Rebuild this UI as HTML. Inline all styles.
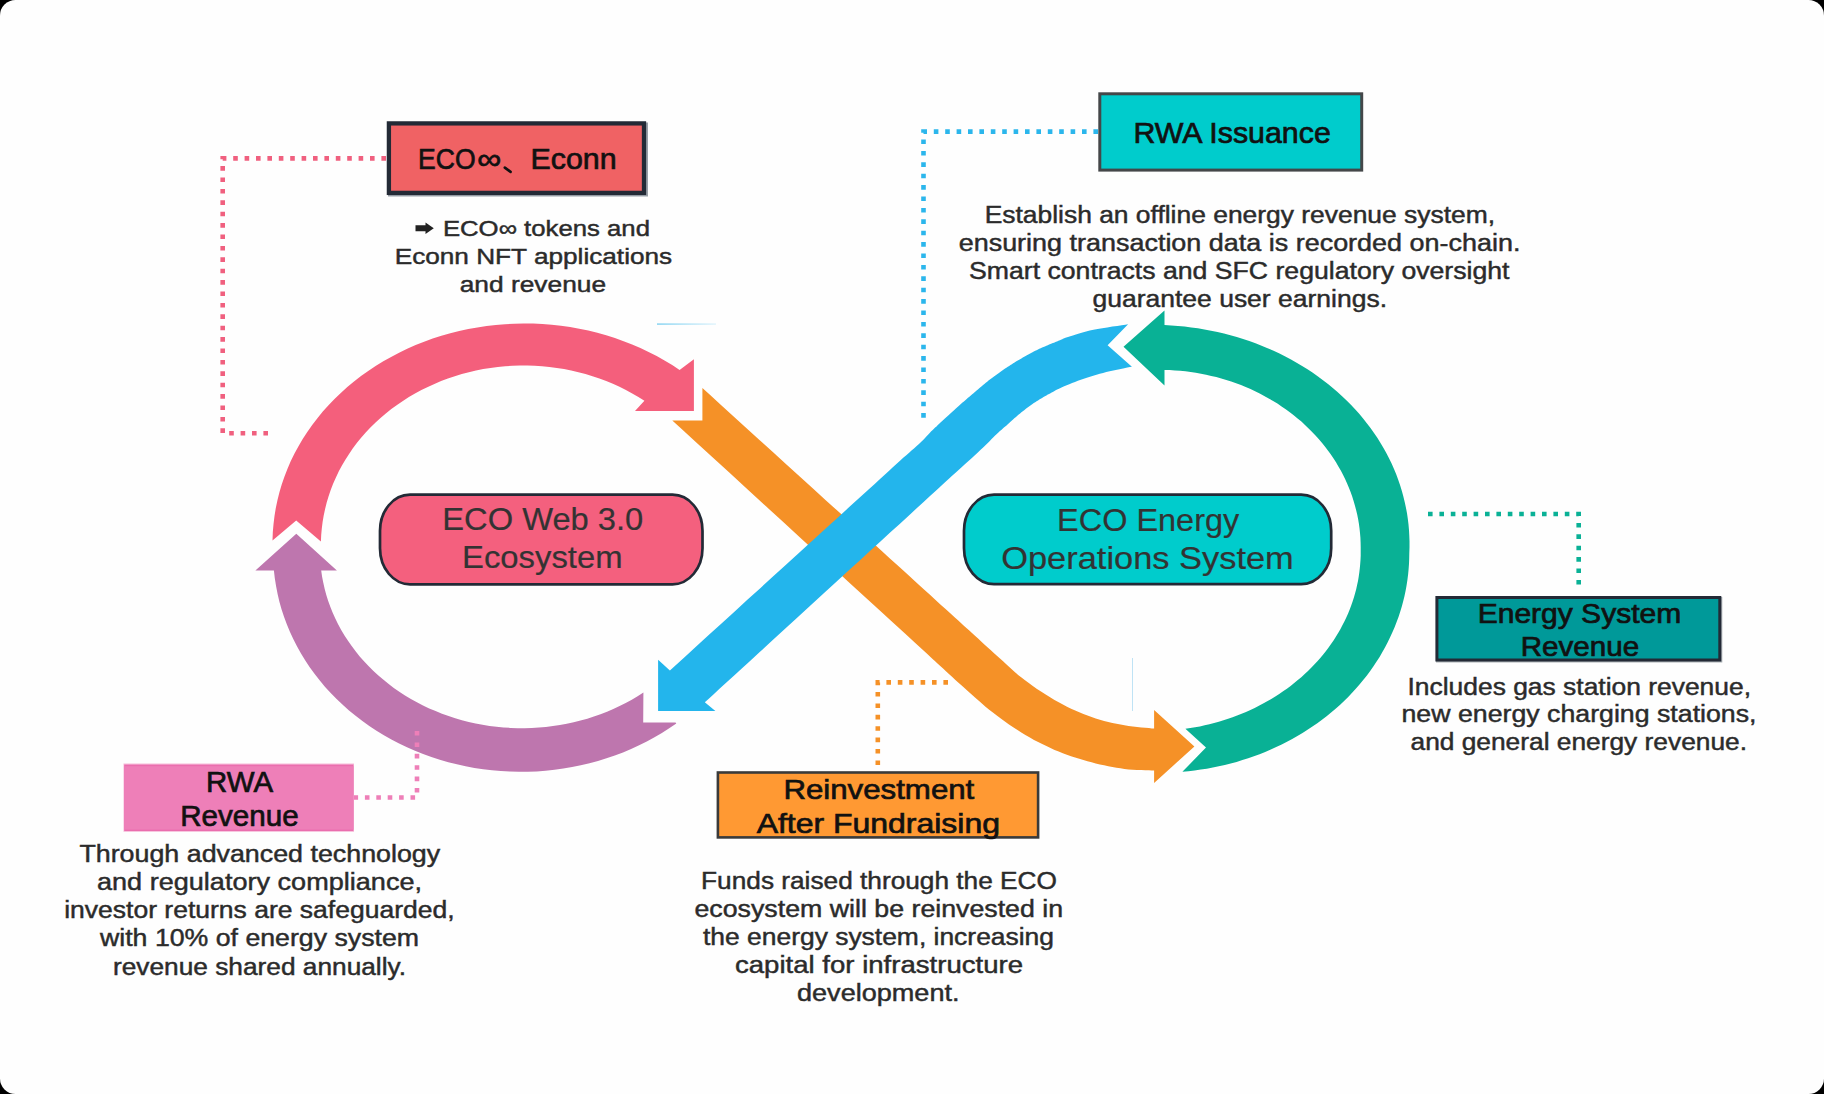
<!DOCTYPE html>
<html><head><meta charset="utf-8"><title>ECO</title>
<style>
html,body{margin:0;padding:0;background:#000;}
body{width:1824px;height:1094px;overflow:hidden;}
svg{display:block;}
text{font-family:"Liberation Sans",sans-serif;white-space:pre;}
</style></head><body>
<svg width="1824" height="1094" viewBox="0 0 1824 1094">
<rect x="0" y="0" width="1824" height="1094" rx="15.5" ry="15.5" fill="#fefefe"/>
<defs><linearGradient id="fl" x1="0" x2="1" y1="0" y2="0"><stop offset="0" stop-color="#8fd6f2"/><stop offset="1" stop-color="#e4f5fc"/></linearGradient></defs><rect x="657" y="323.3" width="59" height="1.6" fill="url(#fl)"/>
<rect x="1132" y="658" width="1" height="53" fill="#bfe3f5"/>
<path d="M386 158.4 H222.7 V433.2 H270" fill="none" stroke="#f0607f" stroke-width="4.6" stroke-dasharray="4.6 6.8"/>
<path d="M1098 131.6 H923.5 V420" fill="none" stroke="#2bb6ec" stroke-width="4.6" stroke-dasharray="4.6 6.8"/>
<path d="M1428 514 H1578.7 V590" fill="none" stroke="#0ab196" stroke-width="4.6" stroke-dasharray="4.6 6.8"/>
<path d="M948 682.4 H877.8 V771" fill="none" stroke="#f59127" stroke-width="4.6" stroke-dasharray="4.6 6.8"/>
<path d="M272.5 540.4 L272.8 532.3 L273.5 524.2 L274.5 516.1 L275.8 508.0 L277.5 500.0 L279.5 492.1 L281.8 484.2 L284.5 476.4 L287.5 468.7 L290.8 461.1 L294.5 453.6 L298.5 446.3 L302.7 439.0 L307.3 431.9 L312.2 425.0 L317.4 418.2 L322.8 411.6 L328.5 405.2 L334.5 399.0 L340.8 392.9 L347.3 387.1 L354.0 381.5 L361.0 376.1 L368.2 370.9 L375.6 366.0 L383.3 361.3 L391.1 356.9 L399.1 352.7 L407.2 348.8 L415.6 345.1 L424.1 341.8 L432.7 338.6 L441.4 335.8 L450.3 333.3 L459.2 331.0 L468.3 329.1 L477.4 327.4 L486.6 326.0 L495.8 324.9 L505.1 324.2 L514.4 323.7 L523.7 323.5 L533.1 323.6 L542.4 324.0 L551.7 324.8 L560.9 325.8 L570.1 327.1 L579.2 328.7 L588.3 330.6 L597.3 332.8 L606.2 335.3 L614.9 338.1 L623.6 341.2 L632.1 344.5 L640.4 348.1 L648.6 352.0 L656.7 356.1 L664.5 360.5 L672.2 365.1 L679.6 370.0 L693.9 359.3 L693.9 410.9 L635.0 410.9 L644.4 400.8 L638.4 397.0 L632.2 393.4 L625.9 390.0 L619.5 386.8 L612.9 383.8 L606.2 381.0 L599.4 378.5 L592.5 376.2 L585.5 374.0 L578.4 372.2 L571.2 370.5 L564.0 369.1 L556.8 367.9 L549.4 367.0 L542.1 366.2 L534.7 365.8 L527.3 365.5 L519.9 365.5 L512.5 365.8 L505.2 366.3 L497.8 367.0 L490.5 367.9 L483.2 369.1 L476.0 370.5 L468.9 372.2 L461.8 374.1 L454.8 376.2 L447.9 378.5 L441.1 381.1 L434.4 383.9 L427.8 386.9 L421.4 390.1 L415.0 393.5 L408.9 397.1 L402.9 400.9 L397.0 404.9 L391.3 409.1 L385.8 413.5 L380.5 418.0 L375.3 422.7 L370.4 427.6 L365.7 432.6 L361.1 437.8 L356.8 443.1 L352.7 448.6 L348.9 454.2 L345.2 459.9 L341.8 465.7 L338.7 471.6 L335.8 477.7 L333.1 483.8 L330.7 490.0 L328.6 496.3 L326.7 502.6 L325.1 509.0 L323.7 515.4 L322.6 521.9 L321.8 528.4 L321.2 535.0 L320.9 541.5 L296.2 520.6 Z" fill="#f45f7c"/>
<path d="M296.3 533.7 L336.9 570.5 L321.2 570.5 L322.1 576.7 L323.3 582.8 L324.7 588.9 L326.3 595.0 L328.2 601.0 L330.4 606.9 L332.7 612.8 L335.3 618.6 L338.1 624.3 L341.2 629.9 L344.5 635.4 L348.0 640.8 L351.7 646.1 L355.6 651.3 L359.7 656.4 L364.0 661.3 L368.5 666.1 L373.2 670.8 L378.1 675.3 L383.2 679.6 L388.4 683.8 L393.8 687.9 L399.3 691.7 L405.0 695.4 L410.9 698.9 L416.9 702.3 L423.0 705.4 L429.2 708.4 L435.6 711.1 L442.0 713.7 L448.6 716.1 L455.2 718.2 L461.9 720.2 L468.7 721.9 L475.6 723.4 L482.5 724.8 L489.5 725.9 L496.5 726.8 L503.5 727.5 L510.6 727.9 L517.6 728.2 L524.7 728.2 L531.8 728.0 L538.9 727.6 L545.9 727.0 L552.9 726.1 L559.9 725.0 L566.8 723.8 L573.7 722.3 L580.5 720.6 L587.3 718.7 L593.9 716.6 L600.5 714.2 L607.0 711.7 L613.3 709.0 L619.6 706.1 L625.7 703.0 L631.8 699.7 L637.6 696.2 L643.4 692.6 L643.2 722.6 L675.5 722.6 L676.3 723.4 L669.2 728.3 L661.9 732.9 L654.5 737.3 L646.8 741.4 L639.1 745.3 L631.1 749.0 L623.0 752.4 L614.8 755.5 L606.5 758.3 L598.0 760.9 L589.5 763.3 L580.8 765.3 L572.1 767.1 L563.3 768.6 L554.5 769.8 L545.6 770.7 L536.7 771.4 L527.8 771.7 L518.8 771.8 L509.9 771.6 L500.9 771.1 L492.0 770.3 L483.2 769.2 L474.4 767.9 L465.6 766.3 L456.9 764.3 L448.3 762.2 L439.8 759.7 L431.4 757.0 L423.1 754.0 L415.0 750.7 L407.0 747.2 L399.1 743.4 L391.4 739.4 L383.9 735.2 L376.5 730.7 L369.3 725.9 L362.4 721.0 L355.6 715.8 L349.0 710.4 L342.7 704.8 L336.6 699.0 L330.7 693.1 L325.1 686.9 L319.8 680.5 L314.7 674.0 L309.9 667.4 L305.3 660.6 L301.0 653.6 L297.1 646.5 L293.4 639.3 L290.0 632.0 L286.9 624.5 L284.1 617.0 L281.6 609.4 L279.4 601.7 L277.6 594.0 L276.1 586.2 L274.8 578.3 L273.9 570.5 L255.4 570.5 Z" fill="#be76ae"/>
<path d="M702.4 388.0 L709.9 394.8 L719.9 403.9 L731.7 414.7 L744.9 426.7 L758.9 439.4 L773.1 452.3 L787.0 464.9 L800.0 476.7 L812.7 488.3 L826.0 500.4 L839.5 512.6 L853.0 524.9 L866.1 536.8 L878.5 548.0 L889.9 558.4 L900.0 567.6 L908.8 575.6 L916.6 582.7 L923.5 589.0 L929.7 594.6 L935.3 599.7 L940.4 604.4 L945.3 608.8 L950.0 613.1 L954.3 617.0 L958.0 620.3 L961.2 623.3 L964.1 625.9 L966.7 628.3 L969.3 630.6 L972.0 633.1 L975.0 635.8 L978.1 638.6 L981.2 641.5 L984.4 644.4 L987.5 647.2 L990.6 650.1 L993.8 652.9 L996.9 655.7 L1000.0 658.5 L1003.1 661.3 L1006.0 664.0 L1009.0 666.8 L1012.0 669.5 L1015.0 672.2 L1018.1 674.9 L1021.5 677.6 L1025.0 680.3 L1028.8 683.1 L1032.8 686.0 L1037.0 688.9 L1041.4 691.8 L1045.7 694.6 L1050.1 697.3 L1054.5 699.9 L1058.7 702.3 L1062.9 704.5 L1067.0 706.7 L1071.1 708.7 L1075.2 710.6 L1079.3 712.3 L1083.4 714.0 L1087.5 715.6 L1091.6 717.1 L1095.7 718.5 L1099.9 719.7 L1104.1 720.9 L1108.3 721.9 L1112.4 722.9 L1116.5 723.7 L1120.5 724.6 L1124.5 725.3 L1128.6 726.0 L1132.8 726.5 L1137.1 727.0 L1141.4 727.5 L1145.3 727.8 L1148.9 728.1 L1151.8 728.4 L1154.1 728.6 L1154.1 710.1 L1194.4 746.5 L1154.1 782.9 L1154.1 770.5 L1151.8 770.4 L1148.9 770.3 L1145.3 770.2 L1141.4 770.1 L1137.1 769.9 L1132.8 769.7 L1128.6 769.4 L1124.5 768.9 L1120.5 768.3 L1116.5 767.7 L1112.4 767.0 L1108.3 766.2 L1104.1 765.3 L1099.9 764.4 L1095.7 763.4 L1091.6 762.3 L1087.5 761.2 L1083.4 760.0 L1079.3 758.8 L1075.1 757.6 L1071.0 756.2 L1066.9 754.8 L1062.8 753.2 L1058.7 751.6 L1054.6 749.9 L1050.5 748.0 L1046.4 746.1 L1042.2 744.1 L1038.1 742.1 L1034.0 739.9 L1029.9 737.6 L1025.8 735.2 L1021.7 732.7 L1017.5 730.0 L1013.2 727.2 L1009.0 724.4 L1004.9 721.5 L1000.8 718.5 L996.8 715.5 L992.9 712.6 L989.2 709.7 L985.5 706.7 L981.9 703.6 L978.5 700.6 L975.0 697.6 L971.7 694.5 L968.3 691.5 L965.0 688.6 L961.7 685.6 L958.5 682.8 L955.4 679.9 L952.3 677.0 L949.2 674.2 L946.2 671.4 L943.1 668.5 L940.0 665.7 L937.5 663.4 L935.9 661.9 L934.6 660.7 L933.1 659.4 L931.0 657.4 L927.6 654.3 L922.4 649.6 L915.0 642.8 L905.0 633.6 L892.9 622.5 L879.0 609.8 L863.9 596.0 L848.0 581.4 L831.8 566.5 L815.6 551.7 L800.0 537.4 L783.8 522.6 L766.0 506.3 L747.4 489.3 L729.0 472.3 L711.4 456.3 L695.5 441.7 L682.2 429.6 L672.3 420.4 L702.4 420.4 Z" fill="#f59127"/>
<path d="M658.1 659.7 L669.9 670.5 L676.8 664.2 L685.9 656.0 L696.7 646.1 L708.7 635.1 L721.5 623.5 L734.7 611.5 L747.6 599.6 L760.0 588.4 L772.4 577.1 L785.7 565.0 L799.4 552.5 L813.1 540.0 L826.5 527.8 L839.0 516.4 L850.3 506.1 L860.0 497.3 L868.0 490.0 L874.7 483.9 L880.3 478.8 L885.0 474.5 L889.1 470.7 L892.8 467.3 L896.4 464.1 L900.0 460.8 L903.5 457.6 L906.6 454.9 L909.4 452.5 L911.8 450.3 L914.0 448.4 L916.1 446.6 L918.1 444.8 L920.0 443.0 L921.8 441.3 L923.4 439.7 L924.8 438.2 L926.1 436.8 L927.3 435.5 L928.5 434.2 L929.7 432.9 L931.0 431.6 L932.4 430.3 L933.7 428.9 L935.1 427.6 L936.5 426.4 L937.8 425.1 L939.2 423.8 L940.5 422.6 L941.9 421.3 L943.3 420.0 L944.6 418.8 L946.0 417.5 L947.4 416.3 L948.8 415.0 L950.1 413.8 L951.5 412.5 L952.9 411.3 L954.3 410.1 L955.6 408.8 L957.0 407.6 L958.4 406.3 L959.8 405.1 L961.1 403.8 L962.5 402.6 L963.9 401.4 L965.3 400.2 L966.7 399.0 L968.0 397.8 L969.4 396.7 L970.8 395.5 L972.2 394.3 L973.5 393.2 L974.9 392.0 L976.3 390.8 L977.6 389.7 L979.0 388.5 L980.4 387.3 L981.7 386.2 L983.1 385.0 L984.4 383.9 L985.8 382.8 L987.2 381.7 L988.5 380.6 L989.9 379.6 L991.3 378.5 L992.7 377.5 L994.0 376.4 L995.4 375.4 L996.8 374.4 L998.2 373.4 L999.6 372.4 L1000.9 371.5 L1002.3 370.5 L1003.7 369.6 L1005.1 368.6 L1006.4 367.7 L1007.8 366.8 L1009.2 365.9 L1010.5 365.0 L1011.9 364.2 L1013.2 363.3 L1014.6 362.5 L1016.0 361.6 L1017.3 360.8 L1018.7 360.0 L1020.1 359.2 L1021.4 358.4 L1022.8 357.6 L1024.2 356.8 L1025.6 356.0 L1026.9 355.2 L1028.3 354.4 L1029.7 353.7 L1031.1 353.0 L1032.5 352.2 L1033.8 351.5 L1035.2 350.8 L1036.6 350.2 L1038.0 349.5 L1039.3 348.8 L1040.7 348.2 L1042.1 347.6 L1043.5 347.0 L1044.9 346.4 L1046.4 345.8 L1047.8 345.2 L1049.1 344.6 L1050.5 344.1 L1051.7 343.6 L1052.9 343.1 L1054.0 342.7 L1055.0 342.2 L1056.0 341.8 L1057.0 341.4 L1058.0 341.0 L1059.0 340.6 L1060.0 340.2 L1060.9 339.8 L1061.6 339.5 L1062.3 339.2 L1062.9 338.8 L1063.7 338.5 L1064.8 338.1 L1066.2 337.6 L1068.0 337.0 L1070.3 336.3 L1072.9 335.4 L1075.9 334.5 L1079.1 333.5 L1082.5 332.6 L1086.1 331.6 L1089.8 330.6 L1093.5 329.8 L1097.6 329.0 L1102.3 328.2 L1107.3 327.4 L1112.4 326.6 L1117.3 325.9 L1121.7 325.2 L1125.4 324.7 L1128.1 324.3 L1107.6 345.2 L1131.9 366.7 L1129.9 367.1 L1127.3 367.6 L1124.2 368.2 L1120.7 368.9 L1117.0 369.7 L1113.3 370.5 L1109.7 371.3 L1106.3 372.1 L1103.1 372.9 L1099.8 373.8 L1096.5 374.7 L1093.2 375.7 L1090.0 376.7 L1086.8 377.7 L1083.8 378.7 L1080.8 379.7 L1077.9 380.7 L1075.0 381.9 L1072.1 383.0 L1069.3 384.2 L1066.7 385.3 L1064.2 386.3 L1062.0 387.3 L1060.0 388.2 L1058.4 388.9 L1057.1 389.5 L1056.1 390.0 L1055.2 390.5 L1054.5 390.9 L1053.7 391.4 L1052.8 391.9 L1051.7 392.5 L1050.5 393.2 L1049.1 393.9 L1047.8 394.6 L1046.4 395.4 L1044.9 396.2 L1043.5 397.0 L1042.1 397.9 L1040.7 398.7 L1039.3 399.6 L1038.0 400.4 L1036.6 401.3 L1035.2 402.2 L1033.8 403.1 L1032.5 404.1 L1031.1 405.0 L1029.7 406.0 L1028.3 407.0 L1026.9 408.0 L1025.6 409.1 L1024.2 410.2 L1022.8 411.2 L1021.4 412.3 L1020.1 413.5 L1018.7 414.6 L1017.3 415.8 L1016.0 416.9 L1014.6 418.1 L1013.3 419.3 L1011.9 420.5 L1010.5 421.8 L1009.2 423.0 L1007.8 424.2 L1006.5 425.4 L1005.2 426.5 L1003.9 427.6 L1002.6 428.7 L1001.3 429.9 L999.9 431.1 L998.4 432.5 L996.8 434.0 L995.1 435.6 L993.4 437.3 L991.6 439.1 L989.8 440.9 L987.8 442.9 L985.7 445.0 L983.4 447.2 L980.9 449.6 L978.1 452.2 L975.1 455.0 L971.9 457.9 L968.5 461.0 L965.1 464.1 L961.6 467.2 L958.3 470.2 L955.0 473.2 L952.1 475.8 L949.7 478.0 L947.5 480.0 L945.3 482.1 L942.6 484.5 L939.4 487.5 L935.3 491.3 L930.0 496.1 L923.6 502.0 L916.4 508.6 L908.4 515.9 L899.7 523.9 L890.4 532.3 L880.7 541.3 L870.5 550.6 L860.0 560.2 L848.6 570.6 L836.1 582.1 L822.7 594.3 L809.1 606.8 L795.5 619.2 L782.6 631.1 L770.6 642.1 L760.0 651.8 L750.6 660.4 L741.8 668.5 L733.6 675.9 L726.1 682.7 L719.5 688.8 L713.7 694.2 L708.8 698.7 L704.8 702.3 L715.4 710.9 L658.1 710.9 Z" fill="#23b5ec"/>
<path d="M1123.5 346.7 L1164.5 310.5 L1164.5 325.1 L1171.2 325.4 L1177.9 325.9 L1184.6 326.6 L1191.2 327.4 L1197.9 328.3 L1204.4 329.4 L1211.0 330.7 L1217.5 332.1 L1224.0 333.6 L1230.4 335.3 L1236.8 337.1 L1243.1 339.0 L1249.3 341.1 L1255.5 343.3 L1261.6 345.7 L1267.6 348.2 L1273.6 350.8 L1279.5 353.6 L1285.3 356.5 L1291.0 359.5 L1296.6 362.7 L1302.1 365.9 L1307.5 369.3 L1312.8 372.8 L1318.0 376.4 L1323.0 380.2 L1328.0 384.0 L1332.8 388.0 L1337.5 392.0 L1342.1 396.2 L1346.6 400.5 L1350.9 404.8 L1355.1 409.3 L1359.2 413.8 L1363.1 418.5 L1366.8 423.2 L1370.5 428.0 L1374.0 432.9 L1377.3 437.8 L1380.5 442.9 L1383.5 448.0 L1386.3 453.1 L1389.0 458.3 L1391.6 463.6 L1394.0 469.0 L1396.2 474.3 L1398.2 479.8 L1400.1 485.3 L1401.8 490.8 L1403.3 496.3 L1404.7 501.9 L1405.9 507.5 L1407.0 513.2 L1407.8 518.8 L1408.5 524.5 L1409.0 530.2 L1409.3 535.9 L1409.5 541.6 L1409.5 547.3 L1409.3 553.0 L1409.3 553.0 L1409.2 558.4 L1409.0 563.8 L1408.6 569.2 L1408.1 574.6 L1407.4 580.0 L1406.6 585.3 L1405.6 590.7 L1404.5 596.0 L1403.2 601.3 L1401.8 606.5 L1400.2 611.8 L1398.5 617.0 L1396.6 622.1 L1394.6 627.2 L1392.4 632.3 L1390.1 637.3 L1387.7 642.3 L1385.1 647.2 L1382.4 652.1 L1379.6 656.9 L1376.6 661.6 L1373.5 666.3 L1370.2 670.9 L1366.9 675.4 L1363.4 679.8 L1359.7 684.2 L1356.0 688.5 L1352.1 692.7 L1348.2 696.9 L1344.1 700.9 L1339.9 704.9 L1335.6 708.7 L1331.1 712.5 L1326.6 716.2 L1322.0 719.7 L1317.3 723.2 L1312.4 726.6 L1307.5 729.8 L1302.5 733.0 L1297.4 736.0 L1292.2 739.0 L1287.0 741.8 L1281.7 744.5 L1276.2 747.1 L1270.8 749.6 L1265.2 751.9 L1259.6 754.2 L1253.9 756.3 L1248.2 758.3 L1242.4 760.1 L1236.6 761.9 L1230.7 763.5 L1224.8 765.0 L1218.8 766.3 L1212.8 767.6 L1206.8 768.7 L1200.7 769.6 L1194.6 770.5 L1188.5 771.2 L1182.4 771.7 L1206.0 747.6 L1185.4 728.8 L1190.3 728.1 L1195.1 727.3 L1199.9 726.4 L1204.7 725.3 L1209.4 724.2 L1214.1 723.0 L1218.8 721.7 L1223.5 720.3 L1228.1 718.8 L1232.6 717.2 L1237.1 715.5 L1241.6 713.8 L1246.0 711.9 L1250.4 710.0 L1254.7 707.9 L1258.9 705.8 L1263.1 703.6 L1267.2 701.3 L1271.3 698.9 L1275.3 696.5 L1279.2 694.0 L1283.1 691.3 L1286.9 688.7 L1290.6 685.9 L1294.2 683.1 L1297.8 680.1 L1301.3 677.2 L1304.7 674.1 L1308.0 671.0 L1311.2 667.8 L1314.3 664.6 L1317.4 661.3 L1320.3 657.9 L1323.2 654.5 L1326.0 651.0 L1328.6 647.4 L1331.2 643.8 L1333.7 640.2 L1336.0 636.5 L1338.3 632.8 L1340.5 629.0 L1342.5 625.1 L1344.5 621.3 L1346.3 617.4 L1348.1 613.4 L1349.7 609.5 L1351.2 605.5 L1352.6 601.4 L1353.9 597.4 L1355.1 593.3 L1356.2 589.2 L1357.1 585.0 L1358.0 580.9 L1358.7 576.7 L1359.3 572.5 L1359.8 568.3 L1360.2 564.1 L1360.5 559.9 L1360.7 555.7 L1360.7 551.5 L1360.7 551.5 L1360.7 546.9 L1360.6 542.2 L1360.4 537.6 L1360.0 533.0 L1359.5 528.3 L1358.9 523.7 L1358.1 519.1 L1357.2 514.6 L1356.1 510.0 L1354.9 505.5 L1353.6 501.0 L1352.2 496.5 L1350.6 492.1 L1348.9 487.7 L1347.1 483.4 L1345.1 479.1 L1343.0 474.8 L1340.8 470.6 L1338.4 466.4 L1336.0 462.3 L1333.4 458.3 L1330.7 454.3 L1327.9 450.4 L1324.9 446.5 L1321.9 442.8 L1318.7 439.0 L1315.5 435.4 L1312.1 431.9 L1308.6 428.4 L1305.0 425.0 L1301.4 421.6 L1297.6 418.4 L1293.7 415.3 L1289.8 412.2 L1285.7 409.3 L1281.6 406.4 L1277.4 403.6 L1273.1 400.9 L1268.7 398.4 L1264.2 395.9 L1259.7 393.5 L1255.1 391.3 L1250.5 389.1 L1245.7 387.1 L1241.0 385.1 L1236.1 383.3 L1231.2 381.6 L1226.3 380.0 L1221.3 378.5 L1216.3 377.1 L1211.2 375.9 L1206.1 374.7 L1201.0 373.7 L1195.8 372.8 L1190.7 372.0 L1185.5 371.3 L1180.2 370.8 L1175.0 370.4 L1169.7 370.0 L1164.5 369.9 L1164.5 385.4 Z" fill="#09b195"/>
<path d="M353.5 797.5 H417 V731" fill="none" stroke="#ee7fb8" stroke-width="4.6" stroke-dasharray="4.6 6.8"/>
<rect x="388" y="122.5" width="260" height="74" fill="#9aa0a8"/>
<rect x="388.9" y="123.4" width="255.1" height="69.5" rx="0" ry="0" fill="#f06264" stroke="#232a36" stroke-width="4.3" />
<rect x="1099.8" y="93.8" width="261.9" height="76.3" rx="0" ry="0" fill="#00cccc" stroke="#444749" stroke-width="3.0" />
<rect x="123.5" y="763.5" width="230.5" height="68.3" fill="#f6b9d8"/>
<rect x="124.2" y="764.6" width="229.2" height="66.4" fill="#ea6eae"/>
<rect x="124.2" y="766.2" width="229.2" height="63.4" fill="#ee7fb8"/>
<rect x="717.9" y="772.5" width="320.2" height="64.9" rx="0" ry="0" fill="#ff9933" stroke="#3a3a3a" stroke-width="2.6" />
<rect x="1436" y="597" width="286.3" height="65.5" fill="#aab0b4"/>
<rect x="1436.9" y="597.5" width="282.9" height="62.5" rx="0" ry="0" fill="#009999" stroke="#232a36" stroke-width="3.0" />
<rect x="380.0" y="494.7" width="322.5" height="89.6" rx="30" ry="36" fill="#f4607e" stroke="#232a36" stroke-width="2.7" />
<rect x="964.0" y="494.7" width="367.2" height="89.5" rx="30" ry="36" fill="#00cccc" stroke="#232a36" stroke-width="2.7" />
<text x="418.1" y="169.0" font-size="29" fill="#111111" textLength="57.5" lengthAdjust="spacingAndGlyphs" stroke="#111111" stroke-width="0.7">ECO</text>
<text x="477.2" y="169.4" font-size="30" fill="#111111" textLength="24.0" lengthAdjust="spacingAndGlyphs" stroke="#111111" stroke-width="0.7">∞</text>
<text x="530.5" y="169.0" font-size="29" fill="#111111" textLength="86.1" lengthAdjust="spacingAndGlyphs" stroke="#111111" stroke-width="0.7">Econn</text>
<text x="1133.4" y="143.2" font-size="30" fill="#111111" textLength="197.4" lengthAdjust="spacingAndGlyphs" stroke="#111111" stroke-width="0.7">RWA Issuance</text>
<text x="206.0" y="792.2" font-size="29.5" fill="#111111" textLength="67.0" lengthAdjust="spacingAndGlyphs" stroke="#111111" stroke-width="0.7">RWA</text>
<text x="180.2" y="825.8" font-size="29.5" fill="#111111" textLength="118.6" lengthAdjust="spacingAndGlyphs" stroke="#111111" stroke-width="0.7">Revenue</text>
<text x="783.4" y="799.3" font-size="28.5" fill="#111111" textLength="190.9" lengthAdjust="spacingAndGlyphs" stroke="#111111" stroke-width="0.7">Reinvestment</text>
<text x="756.7" y="832.6" font-size="28.5" fill="#111111" textLength="243.3" lengthAdjust="spacingAndGlyphs" stroke="#111111" stroke-width="0.7">After Fundraising</text>
<text x="1477.7" y="622.7" font-size="27.5" fill="#111111" textLength="203.5" lengthAdjust="spacingAndGlyphs" stroke="#111111" stroke-width="0.7">Energy System</text>
<text x="1520.7" y="656.4" font-size="27.5" fill="#111111" textLength="118.5" lengthAdjust="spacingAndGlyphs" stroke="#111111" stroke-width="0.7">Revenue</text>
<text x="442.3" y="530.4" font-size="32" fill="#333333" textLength="201.0" lengthAdjust="spacingAndGlyphs" stroke="#333333" stroke-width="0.2">ECO Web 3.0</text>
<text x="462.1" y="567.9" font-size="32" fill="#333333" textLength="160.4" lengthAdjust="spacingAndGlyphs" stroke="#333333" stroke-width="0.2">Ecosystem</text>
<text x="1057.1" y="531.0" font-size="32" fill="#333333" textLength="182.1" lengthAdjust="spacingAndGlyphs" stroke="#333333" stroke-width="0.2">ECO Energy</text>
<text x="1001.2" y="569.0" font-size="32" fill="#333333" textLength="292.6" lengthAdjust="spacingAndGlyphs" stroke="#333333" stroke-width="0.2">Operations System</text>
<text x="442.9" y="235.9" font-size="22.5" fill="#2b2b2b" textLength="207.1" lengthAdjust="spacingAndGlyphs" stroke="#2b2b2b" stroke-width="0.45">ECO∞ tokens and</text>
<text x="394.7" y="263.5" font-size="22.5" fill="#2b2b2b" textLength="277.5" lengthAdjust="spacingAndGlyphs" stroke="#2b2b2b" stroke-width="0.45">Econn NFT applications</text>
<text x="459.7" y="292.2" font-size="22.5" fill="#2b2b2b" textLength="146.4" lengthAdjust="spacingAndGlyphs" stroke="#2b2b2b" stroke-width="0.45">and revenue</text>
<text x="984.7" y="222.5" font-size="23.5" fill="#2b2b2b" textLength="510.3" lengthAdjust="spacingAndGlyphs" stroke="#2b2b2b" stroke-width="0.45">Establish an offline energy revenue system,</text>
<text x="958.7" y="250.8" font-size="23.5" fill="#2b2b2b" textLength="561.7" lengthAdjust="spacingAndGlyphs" stroke="#2b2b2b" stroke-width="0.45">ensuring transaction data is recorded on-chain.</text>
<text x="969.0" y="279.0" font-size="23.5" fill="#2b2b2b" textLength="540.5" lengthAdjust="spacingAndGlyphs" stroke="#2b2b2b" stroke-width="0.45">Smart contracts and SFC regulatory oversight</text>
<text x="1092.5" y="307.2" font-size="23.5" fill="#2b2b2b" textLength="294.5" lengthAdjust="spacingAndGlyphs" stroke="#2b2b2b" stroke-width="0.45">guarantee user earnings.</text>
<text x="79.4" y="862.0" font-size="23.5" fill="#2b2b2b" textLength="360.8" lengthAdjust="spacingAndGlyphs" stroke="#2b2b2b" stroke-width="0.45">Through advanced technology</text>
<text x="97.0" y="890.1" font-size="23.5" fill="#2b2b2b" textLength="325.0" lengthAdjust="spacingAndGlyphs" stroke="#2b2b2b" stroke-width="0.45">and regulatory compliance,</text>
<text x="64.2" y="918.3" font-size="23.5" fill="#2b2b2b" textLength="390.4" lengthAdjust="spacingAndGlyphs" stroke="#2b2b2b" stroke-width="0.45">investor returns are safeguarded,</text>
<text x="100.0" y="946.4" font-size="23.5" fill="#2b2b2b" textLength="319.0" lengthAdjust="spacingAndGlyphs" stroke="#2b2b2b" stroke-width="0.45">with 10% of energy system</text>
<text x="113.0" y="974.6" font-size="23.5" fill="#2b2b2b" textLength="293.0" lengthAdjust="spacingAndGlyphs" stroke="#2b2b2b" stroke-width="0.45">revenue shared annually.</text>
<text x="701.1" y="888.5" font-size="23.5" fill="#2b2b2b" textLength="355.8" lengthAdjust="spacingAndGlyphs" stroke="#2b2b2b" stroke-width="0.45">Funds raised through the ECO</text>
<text x="694.5" y="916.7" font-size="23.5" fill="#2b2b2b" textLength="368.6" lengthAdjust="spacingAndGlyphs" stroke="#2b2b2b" stroke-width="0.45">ecosystem will be reinvested in</text>
<text x="703.0" y="944.9" font-size="23.5" fill="#2b2b2b" textLength="351.0" lengthAdjust="spacingAndGlyphs" stroke="#2b2b2b" stroke-width="0.45">the energy system, increasing</text>
<text x="735.0" y="973.1" font-size="23.5" fill="#2b2b2b" textLength="288.0" lengthAdjust="spacingAndGlyphs" stroke="#2b2b2b" stroke-width="0.45">capital for infrastructure</text>
<text x="797.0" y="1001.3" font-size="23.5" fill="#2b2b2b" textLength="162.5" lengthAdjust="spacingAndGlyphs" stroke="#2b2b2b" stroke-width="0.45">development.</text>
<text x="1407.5" y="694.5" font-size="23.5" fill="#2b2b2b" textLength="343.5" lengthAdjust="spacingAndGlyphs" stroke="#2b2b2b" stroke-width="0.45">Includes gas station revenue,</text>
<text x="1401.5" y="722.3" font-size="23.5" fill="#2b2b2b" textLength="355.0" lengthAdjust="spacingAndGlyphs" stroke="#2b2b2b" stroke-width="0.45">new energy charging stations,</text>
<text x="1410.5" y="750.1" font-size="23.5" fill="#2b2b2b" textLength="336.5" lengthAdjust="spacingAndGlyphs" stroke="#2b2b2b" stroke-width="0.45">and general energy revenue.</text>
<path d="M504.8 167.6 L510.6 171.9" stroke="#111" stroke-width="2.6" stroke-linecap="round" fill="none"/>
<path d="M415.5 225.3 H425.5 V222.6 L433.8 228.3 L425.5 234 V231.3 H415.5 Z" fill="#222"/>
</svg>
</body></html>
